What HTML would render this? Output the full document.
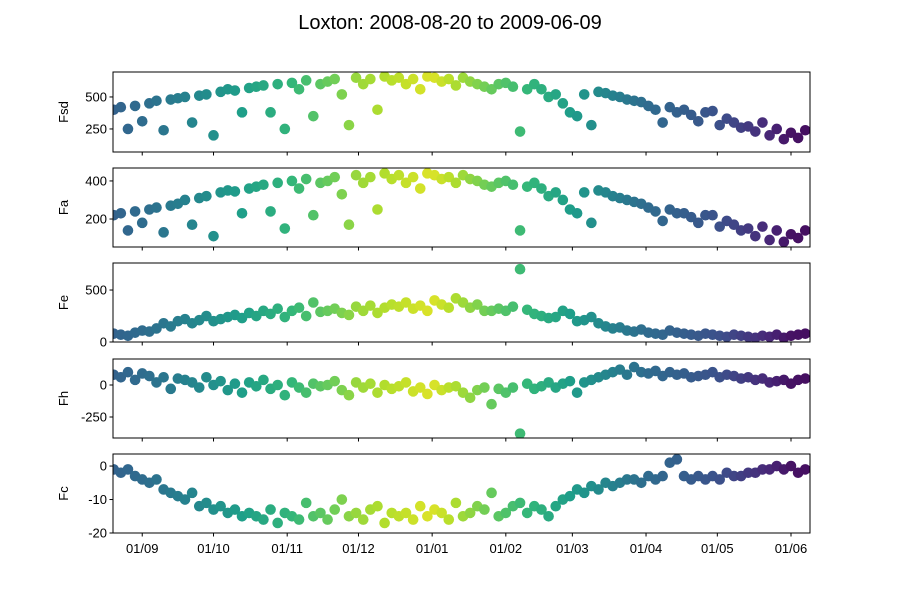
<!DOCTYPE html>
<html><head><meta charset="utf-8"><style>
body{margin:0;background:#fff}
svg text{font-family:"Liberation Sans","DejaVu Sans",sans-serif;fill:#000}
</style></head><body>
<svg id="chart" width="900" height="600" viewBox="0 0 900 600">
<text x="450" y="29" text-anchor="middle" font-size="20">Loxton: 2008-08-20 to 2009-06-09</text>
</svg>
<script>
// data sampled every 3 days starting 2008-08-20
const dayStep = 3;
const fsd = [400,420,250,430,310,450,470,240,480,490,
500,300,510,520,200,540,560,550,380,570,
580,590,380,600,250,610,560,630,350,600,
620,640,520,280,650,600,640,400,660,630,
650,600,640,560,660,650,620,640,590,650,
620,600,580,560,600,610,580,230,560,600,
560,500,520,450,380,350,520,280,540,530,
510,500,480,470,460,430,400,300,420,380,
400,360,310,380,390,280,330,300,260,270,
230,300,200,250,170,220,180,240];
const fa = [220,230,140,240,180,250,260,130,270,280,
300,170,310,320,110,340,350,345,230,360,
370,380,240,390,150,400,360,410,220,390,
400,420,330,170,430,390,420,250,440,410,
430,390,420,360,440,430,410,420,390,430,
410,400,380,370,390,400,380,140,370,390,
360,320,340,300,250,230,340,180,350,340,
320,310,300,290,280,260,240,190,250,230,
230,210,180,220,220,160,190,170,140,150,
110,160,90,140,80,120,100,140];
const fe = [80,70,60,90,110,100,130,180,150,200,
220,180,210,250,200,220,240,260,230,280,
250,300,270,320,240,300,330,250,380,290,
300,320,280,260,340,300,350,280,330,360,
340,380,320,350,300,400,360,330,420,380,
330,360,300,300,320,300,340,700,310,270,
250,230,240,300,270,200,210,240,180,150,
130,140,110,100,120,90,80,70,110,90,
80,70,60,80,70,60,50,70,60,50,
40,60,50,70,40,60,70,80];
const fh = [80,60,100,40,90,70,20,60,-30,50,
40,20,-20,60,0,30,-40,10,-60,20,
-10,40,-30,0,-80,20,-20,-60,10,-10,
0,30,-40,-80,20,-20,10,-60,0,-30,
-10,20,-50,-20,-70,0,-40,-20,-10,-60,
-100,-40,-20,-150,-30,-60,-20,-380,10,-30,
-10,20,-20,10,30,-60,20,40,60,80,
100,120,80,140,100,90,110,70,100,80,
90,60,70,80,100,60,80,70,50,60,
40,50,20,30,40,10,40,50];
const fc = [-1,-2,-1,-3,-4,-5,-4,-7,-8,-9,
-10,-8,-12,-11,-13,-12,-14,-13,-15,-14,
-15,-16,-13,-17,-14,-15,-16,-11,-15,-14,
-16,-13,-10,-15,-14,-16,-13,-12,-17,-14,
-15,-14,-16,-12,-15,-13,-14,-16,-11,-15,
-14,-12,-13,-8,-15,-14,-12,-11,-14,-12,
-13,-15,-12,-10,-9,-7,-8,-6,-7,-5,
-6,-5,-4,-4,-5,-3,-4,-3,1,2,
-3,-4,-3,-4,-3,-4,-2,-3,-3,-2,
-2,-1,-1,0,-1,0,-2,-1];
// colour value per month start (Aug..Jun)
const monthColor = [0.25,0.35,0.5,0.65,0.85,0.95,0.72,0.55,0.35,0.25,0.05,0.0];
const xTickLabels = ["01/09","01/10","01/11","01/12","01/01","01/02","01/03","01/04","01/05","01/06"];
const xTickDays = [12,42,73,103,134,165,193,224,254,285];

const svg = document.getElementById('chart');
const NS = 'http://www.w3.org/2000/svg';
const X0 = 113, X1 = 810, D0 = -0.3, D1 = 293;
const xs = d => X0 + (d - D0) / (D1 - D0) * (X1 - X0);
const vir = [[68,1,84],[72,40,120],[62,74,137],[49,104,142],[38,130,142],[31,158,137],[53,183,121],[109,205,89],[180,222,44],[253,231,37]];
function viridis(t){t=Math.max(0,Math.min(1,t));const p=t*(vir.length-1),i=Math.min(vir.length-2,Math.floor(p)),f=p-i;
 const c=vir[i].map((v,k)=>Math.round(v+(vir[i+1][k]-v)*f));return `rgb(${c})`;}
const monthStarts = [-19,12,42,73,103,134,165,193,224,254,285,315];
function colorAt(d){for(let i=0;i<monthStarts.length-1;i++){if(d<monthStarts[i+1]){const f=(d-monthStarts[i])/(monthStarts[i+1]-monthStarts[i]);return viridis(monthColor[i]+(monthColor[i+1]-monthColor[i])*f);}}return viridis(0);}

const panels = [
 {name:'Fsd',data:fsd,top:72,bot:152,ymin:70,ymax:695,ticks:[250,500]},
 {name:'Fa',data:fa,top:168,bot:247,ymin:53,ymax:468,ticks:[200,400]},
 {name:'Fe',data:fe,top:263,bot:342,ymin:0,ymax:760,ticks:[0,500]},
 {name:'Fh',data:fh,top:359,bot:438,ymin:-414,ymax:203,ticks:[-250,0]},
 {name:'Fc',data:fc,top:454,bot:533,ymin:-20,ymax:3.6,ticks:[-20,-10,0]}
];
function mk(tag,attrs,parent){const e=document.createElementNS(NS,tag);for(const k in attrs)e.setAttribute(k,attrs[k]);(parent||svg).appendChild(e);return e;}
panels.forEach((p,pi)=>{
 const g=mk('g',{});
 
 
 const ys=v=>p.bot-(v-p.ymin)/(p.ymax-p.ymin)*(p.bot-p.top);
 const cp=mk('clipPath',{id:'cp'+pi},g);mk('rect',{x:X0,y:p.top,width:X1-X0,height:p.bot-p.top},cp);
 const pts=mk('g',{'clip-path':`url(#cp${pi})`},g);
 
 
 p.data.forEach((v,i)=>{const d=i*dayStep;
  const c=mk('circle',{cx:xs(d),cy:ys(v),r:5.3,fill:colorAt(d)},pts);
  
  });
 const fr=mk('rect',{x:X0,y:p.top,width:X1-X0,height:p.bot-p.top,fill:'none',stroke:'#000','stroke-width':1},g);
 
 
 p.ticks.forEach(t=>{const y=ys(t);mk('line',{x1:X0-3.5,x2:X0,y1:y,y2:y,stroke:'#000'},g);
  const tx=mk('text',{x:X0-6,y:y+4.5,'text-anchor':'end','font-size':13},g);tx.textContent=t;
  
  });
 xTickDays.forEach((d,i)=>{const x=xs(d);mk('line',{x1:x,x2:x,y1:p.bot,y2:p.bot+3.5,stroke:'#000'},g);
  if(pi===panels.length-1){const tx=mk('text',{x:x,y:p.bot+20,'text-anchor':'middle','font-size':13},g);tx.textContent=xTickLabels[i];
   
   }});
 const yl=mk('text',{x:0,y:0,'text-anchor':'middle','font-size':13,transform:`translate(68,${(p.top+p.bot)/2}) rotate(-90)`},g);
 yl.textContent=p.name;
 
 
});
</script>
</body></html>
